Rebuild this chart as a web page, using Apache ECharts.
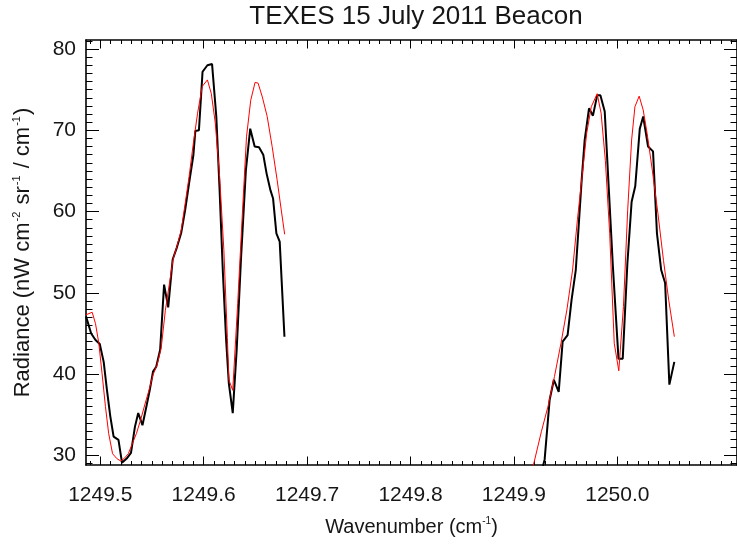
<!DOCTYPE html>
<html><head><meta charset="utf-8">
<script src="https://cdn.jsdelivr.net/npm/echarts@6/dist/echarts.min.js"></script>
<style>html,body{margin:0;padding:0;background:#fff}#c{width:737px;height:546px}</style>
</head><body><div id="c"></div>
<script>
// ---- axis ranges & ticks ----
const X_MIN = 1249.4862, X_MAX = 1250.1157;
const Y_MIN = 28.81, Y_MAX = 81.11;
const xTicks = [1249.5, 1249.6, 1249.7, 1249.8, 1249.9, 1250.0];
const xTickLabels = ['1249.5', '1249.6', '1249.7', '1249.8', '1249.9', '1250.0'];
const yTicks = [30, 40, 50, 60, 70, 80];
const yTickLabels = ['30', '40', '50', '60', '70', '80'];

// ---- data: observed spectrum (black) ----
const blackAWave = [1249.4862,1249.4912,1249.4954,1249.4995,1249.5033,1249.5065,1249.5097,1249.5129,1249.5176,1249.5210,1249.5255,1249.5297,1249.5335,1249.5367,1249.5408,1249.5446,1249.5478,1249.5510,1249.5541,1249.5579,1249.5617,1249.5657,1249.5700,1249.5741,1249.5783,1249.5821,1249.5859,1249.5900,1249.5919,1249.5954,1249.5989,1249.6036,1249.6081,1249.6122,1249.6154,1249.6186,1249.6217,1249.6243,1249.6281,1249.6319,1249.6360,1249.6408,1249.6450,1249.6493,1249.6535,1249.6576,1249.6608,1249.6646,1249.6671,1249.6703,1249.6735,1249.6781];
const blackARad = [47.1,45.0,44.2,43.7,41.5,38.0,34.8,32.3,31.9,29.1,29.6,30.3,33.5,35.2,33.7,36.0,38.0,40.3,40.9,43.0,51.0,48.2,54.1,55.6,57.4,60.2,63.5,66.9,69.9,70.0,77.2,78.0,78.15,71.7,62.6,52.4,44.2,38.9,35.2,43.0,54.0,65.1,70.2,68.0,67.9,67.0,64.7,62.6,61.6,57.3,56.3,44.6];
const blackBWave = [1249.9281,1249.9297,1249.9345,1249.9386,1249.9433,1249.9471,1249.9519,1249.9557,1249.9598,1249.9630,1249.9655,1249.9684,1249.9726,1249.9764,1249.9805,1249.9836,1249.9878,1249.9916,1249.9957,1250.0011,1250.0052,1250.0097,1250.0138,1250.0173,1250.0217,1250.0250,1250.0297,1250.0345,1250.0383,1250.0424,1250.0462,1250.0503,1250.0551];
const blackBRad = [28.7,29.5,36.8,39.3,37.8,44.0,44.8,49.1,52.8,59.0,63.9,68.8,72.7,71.8,74.3,74.3,72.3,63.1,53.2,41.9,41.9,53.6,61.2,63.1,70.2,71.7,68.0,67.4,57.3,52.8,51.2,38.7,41.5];

// ---- data: model fit (red) ----
const redAWave = [1249.4862,1249.4922,1249.4954,1249.4986,1249.5017,1249.5050,1249.5081,1249.5119,1249.5160,1249.5198,1249.5230,1249.5271,1249.5312,1249.5350,1249.5389,1249.5430,1249.5471,1249.5510,1249.5548,1249.5589,1249.5629,1249.5667,1249.5703,1249.5741,1249.5783,1249.5821,1249.5859,1249.5900,1249.5941,1249.5986,1249.6036,1249.6074,1249.6112,1249.6154,1249.6195,1249.6229,1249.6243,1249.6281,1249.6329,1249.6376,1249.6414,1249.6455,1249.6497,1249.6526,1249.6567,1249.6614,1249.6662,1249.6710,1249.6750,1249.6783];
const redARad = [47.3,47.6,46.2,43.8,40.1,36.0,32.7,30.2,29.6,29.3,29.6,30.2,31.5,32.7,34.3,36.2,38.0,39.9,41.1,43.2,47.8,51.0,54.1,55.7,57.7,61.0,64.3,68.4,72.1,75.4,76.2,74.5,70.9,64.3,55.3,44.5,39.3,38.0,48.7,60.2,69.2,73.7,75.9,75.8,74.1,71.7,68.0,63.9,60.2,57.2];
const redBWave = [1249.9181,1249.9265,1249.9329,1249.9392,1249.9455,1249.9512,1249.9567,1249.9614,1249.9662,1249.9703,1249.9748,1249.9805,1249.9843,1249.9884,1249.9926,1249.9970,1250.0014,1250.0059,1250.0100,1250.0138,1250.0170,1250.0211,1250.0250,1250.0288,1250.0338,1250.0392,1250.0446,1250.0497,1250.0551];
const redBRad = [28.4,32.9,36.0,39.7,43.8,47.9,52.8,59.0,64.7,69.6,72.9,74.5,72.1,66.3,57.3,43.8,40.4,48.3,60.2,68.8,72.9,74.2,72.5,69.6,65.1,59.8,54.0,49.1,44.6];

// ---- helpers ----
const FONT = '"Liberation Sans", Arial, Helvetica, sans-serif';
const TXT = '#161616';
function zip(a, b) { return a.map((v, i) => [v, b[i]]); }
function steps(a, b, s) {
  const out = []; const n = Math.round((b - a) / s);
  for (let i = 0; i <= n; i++) out.push(+(a + i * s).toFixed(6));
  return out;
}
function notIn(list) { return v => !list.some(t => Math.abs(t - v) < 1e-7); }
const xMinor = steps(1249.49, 1250.11, 0.01).filter(notIn(xTicks));
const yMinor = steps(29, 81, 1).filter(notIn(yTicks));
function lookup(ticks, labels) {
  return v => { const i = ticks.findIndex(t => Math.abs(t - v) < 1e-6); return i >= 0 ? labels[i] : ''; };
}

function xAxisDef(pos, values, len, withLabels, showLine) {
  const ax = {
    type: 'value', position: pos, min: X_MIN, max: X_MAX,
    axisLine: { show: showLine, onZero: false, lineStyle: { color: '#000', width: 1.6 } },
    axisTick: { show: true, inside: true, length: len, customValues: values, lineStyle: { color: '#000', width: 1 } },
    axisLabel: { show: false },
    splitLine: { show: false }, minorTick: { show: false }
  };
  if (withLabels) {
    ax.axisLabel = { show: true, customValues: xTicks, formatter: lookup(xTicks, xTickLabels),
      fontFamily: FONT, fontSize: 21, color: TXT, margin: 20 };
    ax.name = 'Wavenumber (cm{sup|-1})';
    ax.nameLocation = 'middle';
    ax.nameGap = 51;
    ax.nameTextStyle = { fontFamily: FONT, fontSize: 20, color: TXT, lineHeight: 22,
      rich: { sup: { fontFamily: FONT, fontSize: 10, color: TXT, verticalAlign: 'top', lineHeight: 12 } } };
  }
  return ax;
}
function yAxisDef(pos, values, len, withLabels, showLine) {
  const ax = {
    type: 'value', position: pos, min: Y_MIN, max: Y_MAX,
    axisLine: { show: showLine, onZero: false, lineStyle: { color: '#000', width: 1.6 } },
    axisTick: { show: true, inside: true, length: len, customValues: values, lineStyle: { color: '#000', width: 1 } },
    axisLabel: { show: false },
    splitLine: { show: false }, minorTick: { show: false }
  };
  if (withLabels) {
    ax.axisLabel = { show: true, customValues: yTicks, formatter: lookup(yTicks, yTickLabels),
      fontFamily: FONT, fontSize: 21, color: TXT, margin: 10 };
    ax.name = 'Radiance (nW cm{sup|-2} sr{sup|-1} / cm{sup|-1})';
    ax.nameLocation = 'middle';
    ax.nameRotate = 90;
    ax.nameGap = 51;
    ax.nameTextStyle = { fontFamily: FONT, fontSize: 22, color: TXT, lineHeight: 24,
      rich: { sup: { fontFamily: FONT, fontSize: 11, color: TXT, verticalAlign: 'top', lineHeight: 13, padding: [0, 1, 0, 1] } } };
  }
  return ax;
}

const chart = echarts.init(document.getElementById('c'), null, { renderer: 'canvas' });
chart.setOption({
  animation: false,
  backgroundColor: '#fff',
  grid: { left: 86, top: 40, width: 661, height: 425, containLabel: false },
  graphic: [{
    type: 'text', x: 416, y: 17,
    style: { text: 'TEXES 15 July 2011 Beacon', font: '26px ' + FONT, fill: TXT,
      align: 'center', verticalAlign: 'middle', textAlign: 'center', textVerticalAlign: 'middle' }
  }],
  xAxis: [
    xAxisDef('bottom', xTicks, 8.5, true, true),
    xAxisDef('bottom', xMinor, 4, false, false),
    xAxisDef('top', xTicks, 8.5, false, true),
    xAxisDef('top', xMinor, 4, false, false)
  ],
  yAxis: [
    yAxisDef('left', yTicks, 13, true, true),
    yAxisDef('left', yMinor, 6.5, false, false),
    yAxisDef('right', yTicks, 13, false, true),
    yAxisDef('right', yMinor, 6.5, false, false)
  ],
  series: [
    { type: 'line', name: 'obsA', data: zip(blackAWave, blackARad), symbol: 'none', clip: true,
      lineStyle: { color: '#000', width: 2 }, itemStyle: { color: '#000' }, z: 2 },
    { type: 'line', name: 'obsB', data: zip(blackBWave, blackBRad), symbol: 'none', clip: true,
      lineStyle: { color: '#000', width: 2 }, itemStyle: { color: '#000' }, z: 2 },
    { type: 'line', name: 'fitA', data: zip(redAWave, redARad), symbol: 'none', clip: true,
      lineStyle: { color: '#ff0000', width: 1 }, itemStyle: { color: '#ff0000' }, z: 3 },
    { type: 'line', name: 'fitB', data: zip(redBWave, redBRad), symbol: 'none', clip: true,
      lineStyle: { color: '#ff0000', width: 1 }, itemStyle: { color: '#ff0000' }, z: 3 }
  ]
});
</script></body></html>
